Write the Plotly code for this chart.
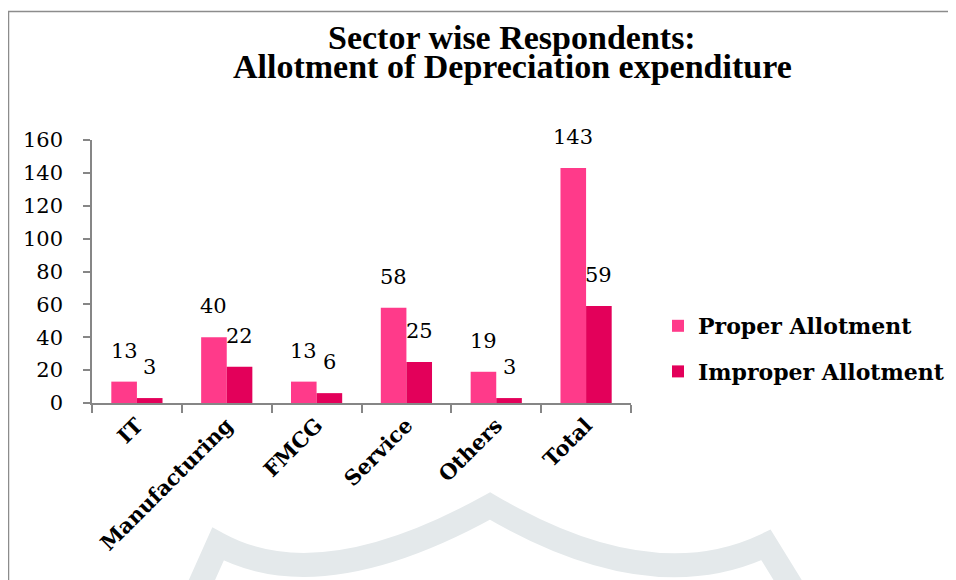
import plotly.graph_objects as go

categories = ["IT", "Manufacturing", "FMCG", "Service", "Others", "Total"]
proper = [13, 40, 13, 58, 19, 143]
improper = [3, 22, 6, 25, 3, 59]
y_ticks = [0, 20, 40, 60, 80, 100, 120, 140, 160]
series_names = ["Proper Allotment", "Improper Allotment"]
title_lines = ["Sector wise Respondents:", "Allotment of Depreciation expenditure"]

OFF = 8  # page body margin
W, H = 956 - OFF, 580 - OFF
# plot area in page pixels
PL, PR, PT, PB = 92, 631, 140, 403
L, R, T, B = PL - OFF, PR - OFF, PT - OFF, PB - OFF


def px(x):
    return (x - OFF - L) / (R - L)


def py(y):
    return (B - (y - OFF)) / (B - T)


serif = "DejaVu Serif"
colors = ["#FF3A8A", "#E3005A"]
bargap = 0.43
fig = go.Figure()
for name, vals, col, grp in zip(series_names, [proper, improper], colors, ["a", "b"]):
    fig.add_trace(go.Bar(
        x=categories, y=vals, name=name,
        marker=dict(color=col, line=dict(width=0)),
        legendgroup=grp,
    ))

# data labels above each bar
cat_px = (R - L) / len(categories)
bar_w = cat_px * (1 - bargap) / 2
annotations = []
for i, vals in enumerate([proper, improper]):
    shift = (i - 0.5) * bar_w
    for c, v in zip(categories, vals):
        annotations.append(dict(
            x=c, y=v, xref="x", yref="y", text=str(v), showarrow=False,
            xshift=shift, yshift=17, yanchor="bottom", xanchor="center",
            font=dict(family=serif, size=21, color="#000000"),
        ))

# title lines
for line, yc in zip(title_lines, [37, 67]):
    annotations.append(dict(
        x=px(512), y=py(yc), xref="paper", yref="paper", text=f"<b>{line}</b>",
        showarrow=False, xanchor="center", yanchor="middle",
        font=dict(family="Liberation Serif", size=34, color="#000000"),
    ))

shapes = []
# faint watermark arcs
shapes.append(dict(type="path", xref="paper", yref="paper",
                   path=f"M {px(193)},{py(600)} L {px(218)},{py(544)} Q {px(320)},{py(600)} {px(490)},{py(506)} "
                        f"Q {px(650)},{py(600)} {px(766)},{py(545)} L {px(800)},{py(600)}",
                   line=dict(color="#E4E9EB", width=24), layer="below"))
# chart border (left and top)
shapes.append(dict(type="path", xref="paper", yref="paper",
                   path=f"M {px(8.5)},{py(600)} L {px(8.5)},{py(11.5)} L {px(970)},{py(11.5)}",
                   line=dict(color="#8C8C8C", width=1.5), layer="above"))

fig.update_layout(
    width=W, height=H,
    margin=dict(l=L, r=W - R, t=T, b=H - B, autoexpand=False),
    paper_bgcolor="white", plot_bgcolor="rgba(0,0,0,0)",
    barmode="group", bargap=bargap, bargroupgap=0,
    legend=dict(
        x=px(658), xanchor="left", y=py(349), yanchor="middle",
        font=dict(family=serif, size=22, color="#000000", weight="bold"),
        traceorder="grouped", tracegroupgap=14,
        bgcolor="rgba(0,0,0,0)",
    ),
    xaxis=dict(
        showline=True, linecolor="#868686", linewidth=1.5,
        ticks="outside", tickson="boundaries", ticklen=8, tickcolor="#868686", tickwidth=1.5,
        tickangle=-45, tickfont=dict(family=serif, size=21, color="#000000", weight="bold"),
        showgrid=False,
    ),
    yaxis=dict(
        range=[0, 160], tickvals=y_ticks, showline=True, linecolor="#868686", linewidth=1.5,
        ticks="outside", ticklen=7, tickcolor="#868686", tickwidth=1.5,
        ticklabelstandoff=16,
        tickfont=dict(family=serif, size=21, color="#000000"),
        showgrid=False, zeroline=False,
    ),
    annotations=annotations,
    shapes=shapes,
    showlegend=True,
)

fig.write_html("out.html")
